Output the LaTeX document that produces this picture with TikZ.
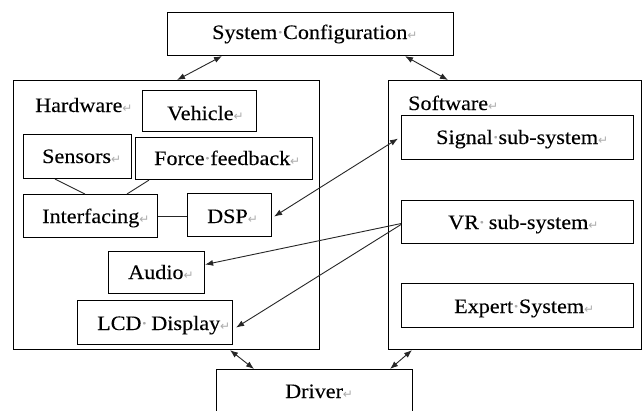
\documentclass[tikz,border=0pt]{standalone}
\usepackage{fontspec}
\setmainfont[FakeStretch=1.08,FakeBold=0.15]{Liberation Serif}
\newfontfamily\symfont{DejaVu Sans}
\usetikzlibrary{arrows.meta}
% Word-style formatting marks: paragraph return and visible space
\newcommand\pmark{{\color{gray!65}\symfont\fontsize{12}{12}\selectfont ↵}}
\newcommand\wdot{\makebox[0.28em]{\color{gray!65}·}}
\begin{document}
\begin{tikzpicture}[x=1pt,y=-1pt,
  box/.style={draw=black, line width=1.1pt, inner sep=0pt, anchor=north west},
  lbl/.style={inner sep=0pt, anchor=base west, font=\fontsize{20.5}{24}\selectfont},
  link/.style={draw=black!85, line width=0.9pt},
  arr/.style={link, -{Latex[length=8pt,width=6pt]}},
  darr/.style={link, {Latex[length=8pt,width=6pt]}-{Latex[length=8pt,width=6pt]}}]
\useasboundingbox (0,0) rectangle (643,410);
\clip (0,0) rectangle (643,410);
\fill[white] (0,0) rectangle (643,410);

% top level blocks
\node[box, minimum width=286pt, minimum height=43pt] (sys) at (167,12) {};
\node[box, minimum width=306pt, minimum height=269pt] (hw) at (13,80) {};
\node[box, minimum width=253pt, minimum height=269pt] (sw) at (388,80) {};
\node[box, minimum width=196pt, minimum height=61pt] (drv) at (216,369) {};

% hardware parts
\node[box, minimum width=114pt, minimum height=41pt] (veh) at (142,90) {};
\node[box, minimum width=108pt, minimum height=44pt] (sen) at (23,134) {};
\node[box, minimum width=177pt, minimum height=42pt] (ff) at (135,137) {};
\node[box, minimum width=134pt, minimum height=43pt] (intf) at (23,194) {};
\node[box, minimum width=84pt, minimum height=43pt] (dsp) at (187,193) {};
\node[box, minimum width=96pt, minimum height=42pt] (au) at (108,251) {};
\node[box, minimum width=155pt, minimum height=44pt] (lcd) at (77,300) {};

% software parts
\node[box, minimum width=232pt, minimum height=44pt] (sig) at (401,115) {};
\node[box, minimum width=232pt, minimum height=43pt] (vr) at (401,200) {};
\node[box, minimum width=232pt, minimum height=44pt] (ex) at (401,283) {};

% labels
\node[lbl] (t-sys) at (212,39) {System\wdot Configuration\pmark};
\node[lbl] (t-hw) at (35,112) {Hardware\pmark};
\node[lbl] (t-veh) at (167,120) {Vehicle\pmark};
\node[lbl] (t-sen) at (42,163) {Sensors\pmark};
\node[lbl] (t-ff) at (154,165) {Force\wdot feedback\pmark};
\node[lbl] (t-intf) at (42,223) {Interfacing\pmark};
\node[lbl] (t-dsp) at (207,223) {DSP\pmark};
\node[lbl] (t-au) at (128,279) {Audio\pmark};
\node[lbl] (t-lcd) at (97,330) {LCD\wdot\hspace{0.2em}Display\pmark};
\node[lbl] (t-sw) at (408,110) {Software\pmark};
\node[lbl] (t-sig) at (436,144) {Signal\wdot sub-system\pmark};
\node[lbl] (t-vr) at (448,229) {VR\wdot\hspace{0.2em}sub-system\pmark};
\node[lbl] (t-ex) at (454,313) {Expert\wdot System\pmark};
\node[lbl] (t-drv) at (285,398) {Driver\pmark};

% connections between the top level blocks
\draw[darr] ([xshift=55pt]sys.south west) -- ([xshift=164pt]hw.north west);
\draw[darr] ([xshift=238pt]sys.south west) -- ([xshift=60pt]sw.north west);
\draw[darr] ([xshift=217pt]hw.south west) -- ([xshift=38pt]drv.north west);
\draw[darr] ([xshift=24pt]sw.south west) -- ([xshift=174pt]drv.north west);

% hardware wiring
\draw[link] ([xshift=32pt]sen.south west) -- ([xshift=62pt]intf.north west);
\draw[link] ([xshift=14pt]ff.south west) -- ([xshift=104pt]intf.north west);
\draw[link] (intf.east) -- (intf.east -| dsp.west);

% software to hardware links
\draw[darr] ([xshift=-3pt,yshift=-1pt]sig.west) -- ([xshift=2pt,yshift=-1.5pt]dsp.east);
\draw[arr] ([yshift=-1.5pt]vr.west) -- ([yshift=8pt]au.east);
\draw[arr] ([yshift=-2.5pt]vr.west) -- ([xshift=3pt,yshift=-5pt]lcd.east);
\end{tikzpicture}
\end{document}
